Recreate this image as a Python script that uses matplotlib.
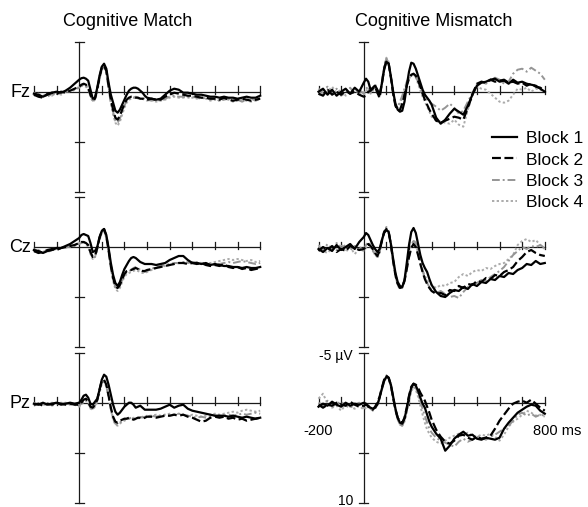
import matplotlib.pyplot as plt

plt.rcParams['font.family'] = ['Liberation Sans', 'DejaVu Sans']

# time points (ms): 20 ms steps before 0 and after 300, 10 ms steps in between
times_ms = [-200, -180, -160, -140, -120, -100, -80, -60, -40, -20,
            0, 10, 20, 30, 40, 50, 60, 70, 80, 90, 100, 110, 120, 130, 140, 150,
            160, 170, 180, 190, 200, 210, 220, 230, 240, 250, 260, 270, 280, 290, 300,
            320, 340, 360, 380, 400, 420, 440, 460, 480, 500, 520, 540, 560, 580, 600,
            620, 640, 660, 680, 700, 720, 740, 760, 780, 800]

block_labels = ['Block 1', 'Block 2', 'Block 3', 'Block 4']
electrodes = ['Fz', 'Cz', 'Pz']
conditions = ['Cognitive Match', 'Cognitive Mismatch']

# amplitudes in microvolts (negative plotted up)
# ---- Cognitive Match ----
match_fz_1 = [0.2, 0.3, 0.5, 0.3, 0.1, 0.0, 0.1, -0.1, -0.4, -0.8,
              -1.2, -1.35, -1.4, -1.3, -1.1, -0.2, 0.7, 0.6, -0.4, -1.6, -2.5, -2.8, -2.3, -0.9, 0.3, 1.1,
              1.9, 2.1, 1.8, 1.3, 0.8, 0.3, -0.1, -0.3, -0.4, -0.4, -0.3, -0.1, 0.1, 0.4, 0.6,
              0.7, 0.8, 0.7, 0.3, -0.1, -0.3, -0.2, 0.1, 0.1, 0.2, 0.3, 0.3, 0.4, 0.5, 0.5,
              0.6, 0.5, 0.6, 0.6, 0.7, 0.6, 0.5, 0.6, 0.6, 0.4]
match_fz_2 = [0.3, 0.5, 0.6, 0.2, 0.1, 0.2, 0.0, 0.1, -0.1, -0.3,
              -0.5, -0.7, -0.8, -0.7, -0.4, 0.3, 0.8, 0.7, -0.3, -1.4, -2.4, -2.6, -2.1, -0.6, 0.8, 1.8,
              2.6, 2.8, 2.4, 1.8, 1.2, 0.8, 0.6, 0.5, 0.5, 0.6, 0.6, 0.7, 0.7, 0.8, 0.8,
              0.7, 0.8, 0.8, 0.5, 0.3, 0.1, 0.2, 0.3, 0.4, 0.4, 0.5, 0.6, 0.6, 0.7, 0.7,
              0.8, 0.6, 0.8, 0.9, 0.8, 0.7, 0.8, 0.9, 0.8, 0.7]
match_fz_3 = [0.1, 0.4, 0.3, 0.5, 0.2, 0.3, 0.1, 0.0, 0.0, -0.2,
              -0.4, -0.6, -0.7, -0.6, -0.3, 0.4, 0.9, 0.8, -0.2, -1.3, -2.3, -2.6, -2.0, -0.5, 1.0, 2.0,
              2.9, 3.1, 2.7, 2.0, 1.4, 0.9, 0.7, 0.6, 0.6, 0.5, 0.6, 0.7, 0.6, 0.7, 0.8,
              0.9, 0.8, 0.9, 0.7, 0.5, 0.4, 0.5, 0.5, 0.6, 0.5, 0.6, 0.7, 0.6, 0.8, 0.7,
              0.9, 0.8, 0.7, 0.9, 0.8, 1.0, 0.8, 0.7, 0.9, 0.7]
match_fz_4 = [0.4, 0.2, 0.4, 0.3, 0.4, 0.1, 0.3, 0.0, -0.1, -0.2,
              -0.5, -0.6, -0.6, -0.5, -0.2, 0.5, 1.0, 0.8, 0.0, -1.2, -2.2, -2.5, -1.8, -0.3, 1.2, 2.3,
              3.1, 3.4, 3.0, 2.3, 1.6, 1.1, 0.8, 0.7, 0.6, 0.6, 0.7, 0.6, 0.7, 0.8, 0.9,
              0.8, 1.0, 0.9, 0.8, 0.6, 0.5, 0.6, 0.6, 0.5, 0.6, 0.7, 0.6, 0.7, 0.9, 0.8,
              0.9, 0.7, 0.8, 1.0, 0.9, 0.8, 0.9, 1.0, 0.8, 0.6]

match_cz_1 = [0.3, 0.4, 0.6, 0.4, 0.3, 0.1, 0.1, -0.1, -0.3, -0.6,
              -0.9, -1.2, -1.3, -1.2, -1.1, -0.4, 0.5, 0.4, 0.0, -1.0, -1.6, -1.8, -1.2, 0.1, 1.6, 2.8,
              3.6, 3.9, 3.5, 2.8, 2.2, 1.8, 1.4, 1.1, 1.0, 1.1, 1.3, 1.5, 1.6, 1.7, 1.7,
              1.7, 1.8, 1.7, 1.6, 1.3, 1.1, 0.9, 0.9, 1.3, 1.6, 1.6, 1.7, 1.6, 1.8, 1.7,
              1.8, 1.9, 1.9, 2.0, 2.0, 2.1, 2.0, 2.1, 2.1, 2.0]
match_cz_2 = [0.4, 0.6, 0.5, 0.3, 0.2, 0.3, 0.1, 0.0, -0.1, -0.2,
              -0.4, -0.5, -0.5, -0.4, -0.2, 0.5, 1.0, 0.9, 0.1, -0.9, -1.6, -1.8, -1.1, 0.3, 1.9, 3.1,
              3.9, 4.1, 3.8, 3.2, 2.7, 2.4, 2.3, 2.3, 2.2, 2.1, 2.2, 2.3, 2.4, 2.4, 2.3,
              2.2, 2.1, 2.0, 1.9, 1.8, 1.7, 1.6, 1.6, 1.7, 1.6, 1.7, 1.6, 1.8, 1.9, 1.8,
              1.9, 1.7, 2.0, 2.1, 2.0, 2.2, 2.1, 2.3, 2.2, 2.1]
match_cz_3 = [0.2, 0.5, 0.4, 0.5, 0.3, 0.2, 0.2, 0.0, 0.0, -0.1,
              -0.3, -0.4, -0.5, -0.3, -0.1, 0.6, 1.1, 1.0, 0.2, -0.8, -1.5, -1.7, -1.0, 0.4, 2.0, 3.2,
              4.0, 4.2, 3.9, 3.3, 2.8, 2.5, 2.4, 2.3, 2.1, 2.0, 2.1, 2.3, 2.4, 2.5, 2.4,
              2.2, 2.0, 1.9, 1.8, 1.7, 1.6, 1.6, 1.5, 1.6, 1.5, 1.6, 1.6, 1.7, 1.7, 1.8,
              1.7, 1.6, 1.5, 1.6, 1.5, 1.4, 1.5, 1.6, 1.7, 1.6]
match_cz_4 = [0.5, 0.3, 0.5, 0.4, 0.3, 0.2, 0.1, 0.1, -0.1, -0.2,
              -0.4, -0.5, -0.5, -0.3, 0.0, 0.7, 1.2, 1.0, 0.3, -0.7, -1.4, -1.6, -0.9, 0.5, 2.1, 3.4,
              4.2, 4.4, 4.1, 3.5, 3.0, 2.7, 2.6, 2.5, 2.4, 2.3, 2.4, 2.5, 2.6, 2.6, 2.5,
              2.3, 2.1, 2.0, 1.9, 1.8, 1.7, 1.6, 1.6, 1.5, 1.6, 1.5, 1.6, 1.7, 1.6, 1.5,
              1.4, 1.3, 1.2, 1.3, 1.2, 1.3, 1.4, 1.3, 1.5, 1.4]

match_pz_1 = [0.1, 0.2, 0.0, 0.2, 0.1, 0.0, 0.2, 0.1, 0.0, 0.1,
              0.0, -0.3, -0.7, -0.8, -0.5, 0.1, 0.2, -0.1, -0.4, -1.3, -2.3, -2.8, -2.6, -1.8, -0.8, 0.2,
              0.9, 1.2, 1.0, 0.7, 0.4, 0.2, 0.0, 0.0, 0.2, 0.5, 0.4, 0.3, 0.5, 0.7, 0.7,
              0.7, 0.7, 0.6, 0.4, 0.2, 0.5, 0.3, 0.2, 0.6, 0.8, 0.9, 1.0, 1.1, 1.2, 1.3,
              1.3, 1.3, 1.4, 1.3, 1.4, 1.5, 1.4, 1.5, 1.6, 1.5]
match_pz_2 = [0.2, 0.1, 0.3, 0.1, 0.2, 0.0, 0.1, 0.2, 0.1, 0.2,
              0.2, 0.0, -0.3, -0.4, -0.1, 0.4, 0.5, 0.2, -0.3, -1.3, -2.2, -2.3, -1.8, -0.7, 0.5, 1.4,
              1.9, 2.0, 1.8, 1.7, 1.6, 1.6, 1.5, 1.6, 1.7, 1.6, 1.5, 1.5, 1.6, 1.5, 1.4,
              1.4, 1.5, 1.4, 1.3, 1.3, 1.2, 1.3, 1.2, 1.4, 1.5, 1.7, 1.9, 1.8, 1.5, 1.4,
              1.5, 1.4, 1.6, 1.5, 1.7, 1.6, 1.8, 1.7, 1.6, 1.5]
match_pz_3 = [0.0, 0.2, 0.1, 0.3, 0.0, 0.2, 0.1, 0.0, 0.2, 0.1,
              0.3, 0.1, -0.2, -0.3, 0.0, 0.5, 0.6, 0.3, -0.2, -1.1, -2.0, -2.2, -1.7, -0.6, 0.6, 1.6,
              2.1, 2.2, 2.0, 1.8, 1.7, 1.6, 1.6, 1.5, 1.6, 1.7, 1.6, 1.5, 1.4, 1.5, 1.4,
              1.3, 1.4, 1.3, 1.2, 1.3, 1.2, 1.1, 1.2, 1.3, 1.4, 1.5, 1.4, 1.5, 1.4, 1.3,
              1.4, 1.3, 1.2, 1.3, 1.2, 1.1, 1.2, 1.1, 1.0, 1.1]
match_pz_4 = [0.3, 0.1, 0.2, 0.1, 0.3, 0.1, 0.0, 0.1, 0.2, 0.2,
              0.4, 0.2, -0.1, -0.2, 0.1, 0.6, 0.7, 0.4, -0.1, -1.0, -1.9, -2.1, -1.6, -0.5, 0.7, 1.7,
              2.2, 2.3, 2.1, 1.9, 1.8, 1.7, 1.6, 1.6, 1.5, 1.6, 1.5, 1.4, 1.5, 1.4, 1.3,
              1.3, 1.2, 1.3, 1.2, 1.1, 1.2, 1.1, 1.2, 1.3, 1.2, 1.3, 1.4, 1.3, 1.2, 1.1,
              1.2, 1.1, 1.0, 0.9, 1.0, 0.8, 0.7, 0.8, 0.9, 0.8]

# ---- Cognitive Mismatch ----
mismatch_fz_1 = [0.0, -0.3, 0.3, -0.2, 0.4, 0.0, -0.3, 0.2, -0.4, 0.0,
                 -0.9, -1.3, -1.0, -0.2, -0.4, -0.6, -0.2, 0.3, -0.8, -2.2, -3.0, -2.8, -1.5, 0.0, 1.2, 1.8,
                 2.0, 1.9, 1.0, -0.6, -2.0, -2.9, -2.8, -2.3, -1.6, -0.9, -0.2, 0.3, 0.6, 0.9, 1.3,
                 2.6, 3.2, 2.8, 2.2, 1.7, 2.0, 2.3, 1.4, 0.3, -0.6, -0.9, -1.0, -1.2, -1.3, -1.0,
                 -1.1, -0.8, -1.2, -0.9, -1.0, -0.8, -0.7, -0.6, -0.3, 0.0]
mismatch_fz_2 = [0.2, 0.4, -0.2, 0.3, 0.0, 0.3, -0.1, 0.2, 0.0, 0.3,
                 0.5, 0.4, 0.0, -0.1, -0.3, -0.5, 0.1, 0.6, -0.8, -2.3, -3.1, -2.8, -1.4, 0.2, 1.4, 1.9,
                 1.8, 1.2, 0.3, -0.6, -1.3, -1.7, -1.8, -1.6, -1.1, -0.5, 0.2, 0.8, 1.3, 1.8, 2.2,
                 2.9, 3.1, 2.9, 2.7, 2.5, 2.6, 2.8, 1.6, 0.3, -0.8, -1.0, -0.9, -1.2, -1.0, -1.1,
                 -1.2, -0.9, -1.0, -0.8, -0.9, -0.6, -0.8, -0.5, -0.4, -0.1]
mismatch_fz_3 = [0.3, -0.2, -0.5, 0.2, -0.3, 0.4, 0.1, -0.4, 0.2, -0.2,
                 0.2, -0.3, -0.5, 0.1, -0.3, -0.8, 0.0, 0.5, -1.0, -2.5, -3.3, -2.9, -1.4, 0.3, 1.4, 1.5,
                 1.0, 0.4, -0.3, -1.0, -1.4, -1.6, -1.7, -1.5, -1.0, -0.4, 0.1, 0.5, 0.8, 1.0, 1.2,
                 1.5, 1.9, 1.6, 1.2, 1.6, 2.2, 1.9, 1.0, 0.1, -0.7, -1.0, -0.8, -1.1, -1.4, -1.2,
                 -0.8, -1.0, -1.8, -2.2, -2.3, -2.0, -2.4, -2.1, -1.8, -1.2]
mismatch_fz_4 = [-0.3, 0.2, 0.0, -0.5, 0.1, -0.2, 0.4, 0.0, -0.3, 0.1,
                 0.3, 0.0, -0.4, 0.2, 0.0, -0.7, 0.2, 0.6, -0.9, -2.6, -3.4, -3.0, -1.5, 0.2, 1.3, 1.6,
                 1.2, 0.6, -0.1, -0.8, -1.3, -1.6, -1.7, -1.4, -0.8, -0.1, 0.5, 1.0, 1.5, 2.0, 2.5,
                 2.9, 3.0, 3.1, 3.2, 2.8, 3.3, 3.5, 1.8, 0.4, -0.5, -0.3, -0.2, 0.2, 0.6, 1.0,
                 1.1, 0.9, 0.3, -0.3, -0.2, -0.4, 0.0, -0.3, -0.2, 0.0]

mismatch_cz_1 = [0.2, 0.5, 0.1, 0.4, -0.2, 0.3, 0.0, -0.3, 0.2, -0.5,
                 -1.0, -1.4, -1.2, -0.7, -0.2, 0.2, 0.5, 0.2, -0.7, -1.4, -1.7, -1.5, -0.3, 1.2, 2.6, 3.5,
                 3.9, 4.0, 3.3, 1.6, -0.2, -1.5, -1.9, -1.4, -0.3, 0.8, 1.6, 2.1, 2.5, 3.2, 3.8,
                 4.5, 4.9, 5.0, 4.6, 4.3, 4.4, 4.0, 4.2, 3.7, 3.9, 3.5, 3.6, 3.2, 3.3, 2.9,
                 3.0, 2.6, 2.7, 2.3, 2.1, 1.7, 1.8, 1.4, 1.7, 1.6]
mismatch_cz_2 = [0.4, 0.0, 0.3, -0.1, 0.5, 0.2, 0.4, -0.1, 0.1, 0.3,
                 0.2, 0.0, -0.3, -0.1, 0.2, 0.6, 0.9, 0.4, -0.6, -1.5, -1.8, -1.5, -0.2, 1.4, 2.8, 3.7,
                 4.1, 4.0, 3.4, 2.2, 1.0, 0.1, -0.3, 0.0, 0.8, 1.7, 2.5, 3.2, 3.7, 4.1, 4.4,
                 4.7, 4.6, 4.8, 4.3, 4.4, 3.9, 4.1, 3.7, 3.8, 3.4, 3.5, 3.1, 3.2, 2.8, 2.9,
                 2.5, 2.3, 2.0, 1.4, 1.0, 0.5, 0.3, 0.6, 0.8, 0.9]
mismatch_cz_3 = [0.0, 0.3, -0.3, 0.2, -0.4, 0.1, -0.2, 0.3, -0.1, 0.0,
                 0.3, -0.2, -0.5, -0.2, 0.3, 0.8, 1.0, 0.5, -0.5, -1.6, -2.0, -1.6, -0.2, 1.5, 2.9, 3.8,
                 4.2, 4.1, 3.4, 2.2, 1.0, 0.0, -0.6, -0.4, 0.5, 1.5, 2.4, 3.1, 3.6, 4.0, 4.3,
                 4.6, 4.4, 4.7, 5.0, 4.9, 5.1, 4.5, 4.0, 3.7, 3.6, 3.3, 3.4, 3.0, 2.7, 2.4,
                 2.0, 1.4, 0.8, 0.4, 0.0, 0.2, -0.1, 0.0, -0.2, 0.1]
mismatch_cz_4 = [-0.2, 0.4, 0.6, 0.1, 0.3, -0.3, 0.5, 0.0, 0.7, 0.2,
                 0.4, 0.1, -0.3, 0.0, 0.4, 0.7, 1.1, 0.6, -0.5, -1.5, -1.8, -1.5, -0.1, 1.5, 2.9, 3.8,
                 4.2, 4.0, 3.3, 2.1, 0.9, -0.1, -0.7, -0.4, 0.6, 1.5, 2.3, 2.9, 3.3, 3.6, 3.8,
                 4.1, 3.8, 3.9, 3.6, 3.5, 3.0, 2.7, 2.9, 2.5, 2.3, 2.4, 2.1, 2.2, 1.9, 1.7,
                 1.6, 1.2, 0.8, -0.2, -0.6, -0.8, -0.5, -0.7, -0.2, 0.2]

mismatch_pz_1 = [0.4, 0.1, 0.3, -0.1, 0.2, 0.4, 0.0, 0.3, 0.1, 0.2,
                 0.0, 0.1, 0.4, 0.5, 0.6, 0.5, 0.2, -0.5, -1.4, -2.2, -2.6, -2.5, -1.8, -0.6, 0.6, 1.5,
                 2.0, 2.1, 1.6, 0.6, -0.6, -1.5, -1.9, -1.7, -1.2, -0.5, 0.1, 0.5, 1.2, 1.9, 2.4,
                 3.1, 3.6, 4.8, 4.3, 3.6, 3.2, 2.9, 3.3, 3.2, 3.6, 3.7, 3.5, 3.6, 3.7, 3.5,
                 2.6, 2.0, 1.5, 1.0, 0.7, 0.4, 0.2, 0.3, 0.8, 1.1]
mismatch_pz_2 = [0.2, 0.5, 0.2, 0.3, 0.0, 0.2, 0.3, -0.1, 0.2, 0.4,
                 0.3, 0.2, 0.3, 0.6, 0.7, 0.4, 0.0, -0.6, -1.5, -2.3, -2.7, -2.5, -1.7, -0.5, 0.7, 1.5,
                 1.9, 2.0, 1.5, 0.5, -0.7, -1.6, -1.9, -1.8, -1.5, -1.0, -0.6, -0.2, 0.4, 1.0, 1.7,
                 2.7, 3.4, 3.9, 4.1, 3.8, 3.3, 3.2, 3.5, 3.7, 3.4, 3.6, 3.5, 3.3, 2.6, 1.8,
                 1.2, 0.6, 0.1, -0.1, -0.2, 0.0, -0.3, 0.1, 0.5, 0.8]
mismatch_pz_3 = [0.0, 0.3, -0.2, 0.4, 0.1, -0.1, 0.3, 0.5, 0.2, 0.0,
                 0.5, 0.6, 0.4, 0.6, 0.8, 0.6, 0.3, -0.4, -1.3, -2.1, -2.5, -2.4, -1.6, -0.4, 0.8, 1.7,
                 2.2, 2.3, 1.8, 0.8, -0.4, -1.3, -1.7, -1.5, -0.9, -0.1, 0.6, 1.3, 2.0, 2.6, 3.0,
                 3.5, 3.8, 4.0, 4.2, 4.4, 3.9, 3.6, 3.9, 3.7, 3.4, 3.5, 3.7, 3.4, 3.2, 2.9,
                 2.6, 2.3, 1.8, 1.2, 1.0, 1.3, 1.1, 1.4, 1.2, 1.3]
mismatch_pz_4 = [-0.4, -0.9, 0.1, 0.5, 0.3, 0.8, 0.2, 0.4, 0.6, 0.3,
                 0.7, 0.5, 0.3, 0.5, 0.7, 0.5, 0.2, -0.5, -1.3, -2.1, -2.5, -2.4, -1.7, -0.5, 0.7, 1.7,
                 2.2, 2.3, 1.9, 1.0, -0.2, -1.1, -1.6, -1.3, -0.6, 0.3, 1.2, 2.0, 2.7, 3.1, 3.5,
                 3.9, 4.1, 3.8, 3.5, 3.3, 3.1, 3.2, 3.0, 3.3, 3.4, 3.2, 3.3, 3.1, 3.4, 3.8,
                 3.2, 2.4, 1.9, 1.6, 1.2, 0.8, 1.0, 1.3, 1.2, 1.4]

panels = {
    ('Cognitive Match', 'Fz'): [match_fz_1, match_fz_2, match_fz_3, match_fz_4],
    ('Cognitive Match', 'Cz'): [match_cz_1, match_cz_2, match_cz_3, match_cz_4],
    ('Cognitive Match', 'Pz'): [match_pz_1, match_pz_2, match_pz_3, match_pz_4],
    ('Cognitive Mismatch', 'Fz'): [mismatch_fz_1, mismatch_fz_2, mismatch_fz_3, mismatch_fz_4],
    ('Cognitive Mismatch', 'Cz'): [mismatch_cz_1, mismatch_cz_2, mismatch_cz_3, mismatch_cz_4],
    ('Cognitive Mismatch', 'Pz'): [mismatch_pz_1, mismatch_pz_2, mismatch_pz_3, mismatch_pz_4],
}
for key, series in panels.items():
    for s in series:
        assert len(s) == len(times_ms), (key, len(s))

# styles per block
styles = [
    dict(color='black', lw=1.6, ls='-'),
    dict(color='black', lw=1.6, ls=(0, (4, 1.6))),
    dict(color='#959595', lw=1.4, ls=(0, (4, 1.5, 1, 1.5))),
    dict(color='#ababab', lw=1.4, ls=(0, (1.2, 1.2))),
]

W, H = 588, 507
PX_MS = 0.2263   # pixels per millisecond
PX_UV = 10.0     # pixels per microvolt
XLIM = (-240, 840)
YLIM = (11.0, -7.0)
col_x0 = {'Cognitive Match': 33.9, 'Cognitive Mismatch': 318.5}  # pixel x of -200 ms
row_top = {'Fz': 41.7, 'Cz': 197.0, 'Pz': 352.7}                 # pixel y of -5 uV
AX_C = '#1a1a1a'
AX_LW = 0.9


def add_panel(fig, x0, top):
    left = x0 + (XLIM[0] + 200) * PX_MS
    width = (XLIM[1] - XLIM[0]) * PX_MS
    top_edge = top + (YLIM[1] + 5) * PX_UV
    height = (YLIM[0] - YLIM[1]) * PX_UV
    ax = fig.add_axes([left / W, 1 - (top_edge + height) / H, width / W, height / H])
    ax.set_xlim(*XLIM)
    ax.set_ylim(*YLIM)
    ax.axis('off')
    return ax


def draw_frame(ax):
    ax.plot([-200, 800], [0, 0], color=AX_C, lw=AX_LW, zorder=1)
    ax.plot([0, 0], [-5, 10], color=AX_C, lw=AX_LW, zorder=1)
    for t in range(-200, 801, 100):
        if t != 0:
            ax.plot([t, t], [-0.55, 0.2], color=AX_C, lw=AX_LW, zorder=1)
    for v in (-5, 5, 10):
        ax.plot([-20, 20], [v, v], color=AX_C, lw=AX_LW, zorder=1)


fig = plt.figure(figsize=(W / 100, H / 100), dpi=100)
handles = None
for cond in conditions:
    for elec in electrodes:
        ax = add_panel(fig, col_x0[cond], row_top[elec])
        draw_frame(ax)
        lines = []
        for i in range(3, -1, -1):
            ln, = ax.plot(times_ms, panels[(cond, elec)][i], label=block_labels[i],
                          zorder=2 + (4 - i), solid_joinstyle='round', **styles[i])
            lines.append(ln)
        if handles is None:
            handles = lines[::-1]
        if cond == 'Cognitive Match':
            ax.text(-214, 0.1, elec, ha='right', va='center', fontsize=13)
        if elec == 'Fz':
            tx = 215 if cond == 'Cognitive Match' else 310
            ax.text(tx, -6.6, cond, ha='center', va='baseline', fontsize=13)
        if cond == 'Cognitive Mismatch' and elec == 'Pz':
            ax.text(-48, -4.7, '-5 \u00b5V', ha='right', va='center', fontsize=10)
            ax.text(-48, 10.2, '10', ha='right', va='baseline', fontsize=10)
            ax.text(-200, 2.8, '-200', ha='center', va='center', fontsize=10.5)
            ax.text(748, 2.8, '800 ms', ha='left', va='center', fontsize=10.5)

fig.legend(handles, block_labels, loc='upper left',
           bbox_to_anchor=(492 / W, 1 - 131 / H), frameon=False,
           fontsize=12.5, handlelength=1.45, handletextpad=0.5,
           labelspacing=0.36, borderpad=0, borderaxespad=0)

fig.savefig('out.png', dpi=100)
